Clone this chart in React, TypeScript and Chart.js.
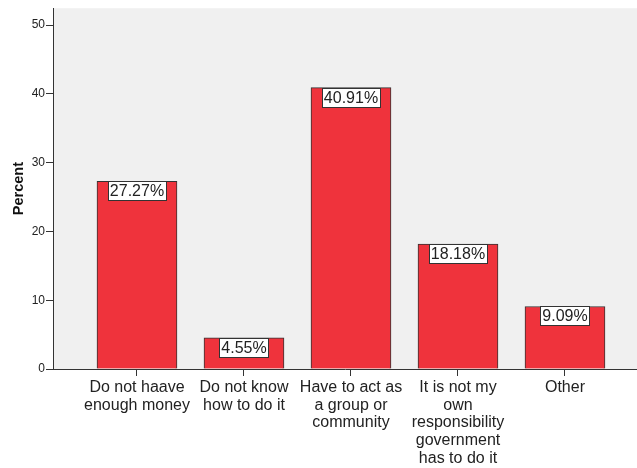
import React, { useEffect, useRef } from "react";
import { Chart, registerables } from "chart.js";

Chart.register(...registerables);

const categories: string[][] = [
  ["Do not haave", "enough money"],
  ["Do not know", "how to do it"],
  ["Have to act as", "a group or", "community"],
  ["It is not my", "own", "responsibility", "government", "has to do it"],
  ["Other"],
];
const percentValues: number[] = [27.27, 4.55, 40.91, 18.18, 9.09];
const valueLabels: string[] = ["27.27%", "4.55%", "40.91%", "18.18%", "9.09%"];
const yTicks: number[] = [0, 10, 20, 30, 40, 50];

const FONT = "'Liberation Sans', Arial, sans-serif";

const bgPlugin = {
  id: "plotBg",
  beforeDraw(chart: any) {
    const { ctx, chartArea } = chart;
    ctx.save();
    ctx.fillStyle = "#f0f0f0";
    ctx.fillRect(chartArea.left, chartArea.top, chartArea.right - chartArea.left, chartArea.bottom - chartArea.top);
    ctx.restore();
  },
};

const labelPlugin = {
  id: "boxLabels",
  afterDatasetsDraw(chart: any) {
    const { ctx } = chart;
    const meta = chart.getDatasetMeta(0);
    ctx.save();
    ctx.font = `16px ${FONT}`;
    ctx.textAlign = "center";
    ctx.textBaseline = "middle";
    meta.data.forEach((bar: any, i: number) => {
      const text = valueLabels[i];
      const w = Math.round(ctx.measureText(text).width) + 4;
      const h = 19;
      const x = Math.round(bar.x - w / 2) + 0.5;
      const y = Math.round(bar.y) + 0.5;
      ctx.fillStyle = "#ffffff";
      ctx.fillRect(x, y, w, h);
      ctx.strokeStyle = "#333333";
      ctx.lineWidth = 1;
      ctx.strokeRect(x, y, w, h);
      ctx.fillStyle = "#222222";
      ctx.fillText(text, bar.x, y + h / 2 + 1);
    });
    ctx.restore();
  },
};

export default function App() {
  const ref = useRef<HTMLCanvasElement>(null);
  useEffect(() => {
    document.body.style.margin = "0";
    const chart = new Chart(ref.current!, {
      type: "bar",
      data: {
        datasets: [
          {
            data: percentValues.map((v, i) => ({ x: i, y: v })),
            backgroundColor: "#ef333c",
            borderColor: "#333333",
            borderWidth: 1,
            barThickness: 80,
          },
        ],
      },
      options: {
        animation: false,
        responsive: false,
        maintainAspectRatio: false,
        layout: { padding: { top: 7, right: 0, left: 0, bottom: 0 } },
        plugins: { legend: { display: false }, tooltip: { enabled: false } },
        scales: {
          x: {
            type: "linear",
            offset: false,
            min: -0.785,
            max: 4.673,
            afterBuildTicks: (scale: any) => {
              scale.ticks = categories.map((_, i) => ({ value: i }));
            },
            afterFit: (scale: any) => {
              scale.height = 99;
            },
            grid: {
              display: true,
              offset: false,
              drawOnChartArea: false,
              drawTicks: true,
              tickLength: 7,
              tickColor: "#333333",
            },
            border: { display: true, color: "#333333", width: 1 },
            ticks: {
              autoSkip: false,
              maxRotation: 0,
              minRotation: 0,
              padding: 3,
              color: "#222222",
              font: { family: FONT, size: 16, lineHeight: 1.1 },
              callback: (v: any) => categories[Math.round(Number(v))] ?? "",
            },
          },
          y: {
            type: "linear",
            min: 0,
            max: 52.46,
            afterBuildTicks: (scale: any) => {
              scale.ticks = yTicks.map((v) => ({ value: v }));
            },
            afterFit: (scale: any) => {
              scale.width = 53;
            },
            grid: {
              display: true,
              drawOnChartArea: false,
              drawTicks: true,
              tickLength: 7,
              tickColor: "#333333",
            },
            border: { display: true, color: "#333333", width: 1 },
            title: {
              display: true,
              text: "Percent",
              color: "#111111",
              font: { family: FONT, size: 14.5, weight: "bold" },
              padding: { top: 10, bottom: 4 },
            },
            ticks: {
              padding: 1,
              color: "#222222",
              font: { family: FONT, size: 12 },
            },
          },
        },
      },
      plugins: [bgPlugin, labelPlugin],
    } as any);
    return () => chart.destroy();
  }, []);
  return (
    <div style={{ position: "absolute", left: 0, top: 0, width: 637, height: 468, background: "#fff" }}>
      <canvas ref={ref} width={637} height={468} style={{ display: "block" }} />
    </div>
  );
}
